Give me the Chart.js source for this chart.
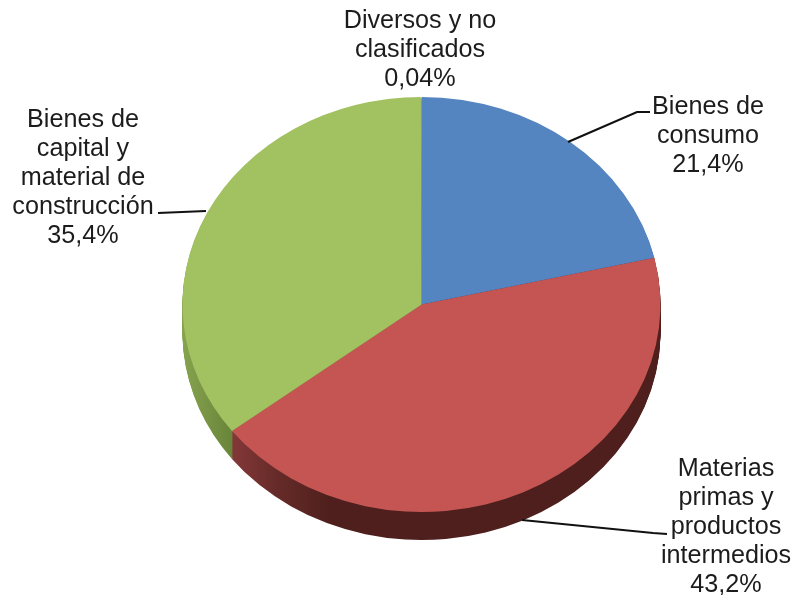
<!DOCTYPE html>
<html lang="es">
<head>
<meta charset="utf-8">
<title>Pie chart</title>
<style>html,body{margin:0;padding:0;background:#fff}canvas{display:block}</style>
<script src="https://cdn.jsdelivr.net/npm/chart.js@4/dist/chart.umd.js"></script>
</head>
<body>
<canvas id="c" width="794" height="595"></canvas>
<script>
const categories = ['Bienes de consumo', 'Materias primas y productos intermedios', 'Bienes de capital y material de construcción', 'Diversos y no clasificados'];
const shares = [21.4, 43.2, 35.4, 0.04];
const sliceColors = ['#5585C1', '#C45553', '#A2C161', '#C8CFD8'];
const labelLines = [
  ['Bienes de', 'consumo', '21,4%'],
  ['Materias', 'primas y', 'productos', 'intermedios', '43,2%'],
  ['Bienes de', 'capital y', 'material de', 'construcción', '35,4%'],
  ['Diversos y no', 'clasificados', '0,04%']
];

const SQUASH = 415 / 478, DEPTH = 28;
const labelPlace = [
  {x: 708, y: 107, lead: [[568, 142], [637, 112], [650, 112]]},
  {x: 726, y: 469, lead: [[522, 520], [653, 533], [667, 534]]},
  {x: 83, y: 120, lead: [[158, 213], [206, 211]]},
  {x: 420, y: 21.5, lead: null}
];

function tilt(ctx, cx, cy, dy) {
  ctx.translate(cx, cy + dy);
  ctx.scale(1, SQUASH);
  ctx.translate(-cx, -cy);
}

const tiltedPie = {
  id: 'tiltedPie',
  beforeDatasetDraw(chart, args) {
    const ctx = chart.ctx, arcs = args.meta.data;
    const cx = arcs[0].x, cy = arcs[0].y, r = arcs[0].outerRadius;
    const greenSide = ctx.createLinearGradient(cx - r, 0, cx - 190, 0);
    greenSide.addColorStop(0, '#86A34F');
    greenSide.addColorStop(1, '#69853A');
    const redSide = ctx.createLinearGradient(cx - 190, 0, cx - 90, 0);
    redSide.addColorStop(0, '#843838');
    redSide.addColorStop(0.41, '#682C2A');
    redSide.addColorStop(1, '#4E1F1C');
    const sideFill = ['#2E4D73', redSide, greenSide, '#4E1F1C'];
    for (let d = DEPTH; d >= 1; d--) {
      ctx.save();
      tilt(ctx, cx, cy, d);
      arcs.forEach((arc, i) => {
        const copy = Object.create(arc);
        copy.options = Object.create(arc.options);
        copy.options.backgroundColor = sideFill[i];
        copy.draw(ctx);
      });
      ctx.restore();
    }
    ctx.save();
    tilt(ctx, cx, cy, 0);
  },
  afterDatasetDraw(chart) {
    chart.ctx.restore();
  },
  afterDraw(chart) {
    const ctx = chart.ctx;
    ctx.save();
    ctx.strokeStyle = '#111';
    ctx.lineWidth = 2.2;
    labelPlace.forEach(p => {
      if (!p.lead) return;
      ctx.beginPath();
      p.lead.forEach((pt, i) => i ? ctx.lineTo(pt[0], pt[1]) : ctx.moveTo(pt[0], pt[1]));
      ctx.stroke();
    });
    ctx.fillStyle = '#1c1c1c';
    ctx.font = '25.2px "Liberation Sans", Arial, sans-serif';
    ctx.textAlign = 'center';
    ctx.textBaseline = 'middle';
    labelLines.forEach((lines, i) => {
      lines.forEach((t, j) => ctx.fillText(t, labelPlace[i].x, labelPlace[i].y + j * 29));
    });
    ctx.restore();
  }
};

new Chart(document.getElementById('c'), {
  type: 'pie',
  data: {
    labels: categories,
    datasets: [{data: shares, backgroundColor: sliceColors, borderWidth: 0, clip: false}]
  },
  options: {
    responsive: false,
    animation: false,
    layout: {padding: {left: 182.5, right: 133.5, top: 65.5, bottom: 51.5}},
    plugins: {legend: {display: false}, tooltip: {enabled: false}, title: {display: false}}
  },
  plugins: [tiltedPie]
});
</script>
</body>
</html>
